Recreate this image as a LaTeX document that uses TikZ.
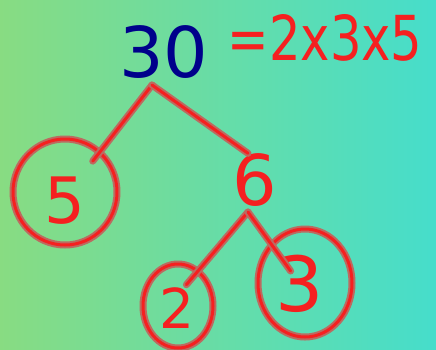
\documentclass[tikz,border=0pt]{standalone}
\usepackage{fontspec}
\setmainfont{DejaVu Sans}
\usetikzlibrary{shapes.geometric,positioning,calc}
\definecolor{fbnavy}{HTML}{00008B}
\definecolor{fbred}{HTML}{F52020}
\definecolor{fbhalo}{HTML}{BC6A60}
\definecolor{fbleft}{HTML}{88DC82}
\definecolor{fbright}{HTML}{46DDCB}
\tikzset{
  fbink/.style  ={draw=fbred, line width=3pt, line cap=round, line join=round,
                  preaction={draw=fbhalo, line width=7pt, line cap=round, line join=round}},
  fbring/.style ={ellipse, fbink, inner sep=0pt},
  fbdigit/.style={text=fbred, inner sep=0pt, font=\fontsize{60}{60}\selectfont},
}

\begin{document}
\begin{tikzpicture}[x=1pt,y=-1pt]
  \fill[left color=fbleft, right color=fbright] (0,0) rectangle (436,349);
  \useasboundingbox (0,0) rectangle (436,349);
  % number and its factors
  \node[text=fbnavy, inner sep=0pt, font=\fontsize{70}{70}\selectfont] (n30) at (164,52) {30};
  \node[fbdigit, font=\fontsize{62}{62}\selectfont] (eq) at (325,38) {\scalebox{0.8}[1]{=2x3x5}};
  \coordinate (apex) at (152,85);
  % first split
  \node[fbring, minimum width=104pt, minimum height=106pt] (c5) at (65,192) {};
  \node[fbdigit, font=\fontsize{64}{64}\selectfont] (d5) at (65,201) {5};
  \node[fbdigit, font=\fontsize{70}{70}\selectfont] (d6) at (255,180) {6};
  \draw[fbink] (apex) -- ($(apex)!1.15!(c5.49)$);
  \draw[fbink] (apex) -- ([xshift=-7pt]d6.north);
  % second split
  \coordinate (sub) at (248,212);
  \node[fbring, minimum width=70pt, minimum height=84pt] (c2) at (178,306) {};
  \node[fbdigit, font=\fontsize{55}{55}\selectfont] (d2) at (177,308) {2};
  \node[fbring, minimum width=94pt, minimum height=108pt] (c3) at (305,283) {};
  \node[fbdigit, font=\fontsize{76}{76}\selectfont] (d3) at (300,284) {3};
  \draw[fbink] (sub) -- ($(sub)!1.25!(c2.60)$);
  \draw[fbink] (sub) -- ($(sub)!0.82!(d3.center)$);
\end{tikzpicture}
\end{document}
